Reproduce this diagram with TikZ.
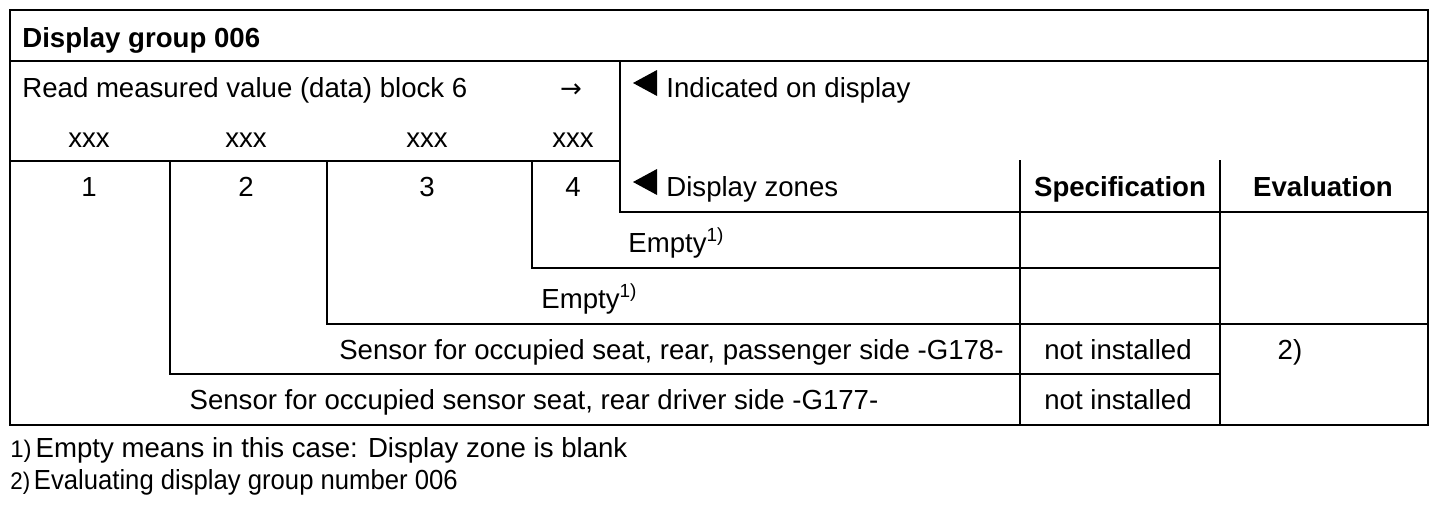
\documentclass[tikz,border=0pt]{standalone}
\usepackage{fontspec}
\setmainfont{Liberation Sans}
\newfontfamily\symfont{DejaVu Sans}
\newcommand{\fnmark}[1]{\raisebox{0.75ex}{\fontsize{9.5}{10}\selectfont #1}}
\begin{document}
\begin{tikzpicture}[x=0.5pt,y=-0.5pt,
  rule/.style={line width=1.3pt, line cap=rect},
  txt/.style={inner sep=0pt, font=\fontsize{13.8}{16}\selectfont},
  bold/.style={txt, font=\fontsize{13.8}{16}\selectfont\bfseries},
  pointer/.style={fill=black}]
\useasboundingbox (0,0) rectangle (1456,514);
% frame and rules
\draw[rule] (10,10) rectangle (1428,425);
\draw[rule] (10,61) -- (1428,61);
\draw[rule] (10,161) -- (620,161);
\draw[rule] (620,61) -- (620,212) -- (1428,212);
\draw[rule] (170,161) -- (170,374);
\draw[rule] (327,161) -- (327,324);
\draw[rule] (532,161) -- (532,268) -- (1220,268);
\draw[rule] (327,324) -- (1428,324);
\draw[rule] (170,374) -- (1220,374);
\draw[rule] (1020,161) -- (1020,425);
\draw[rule] (1220,161) -- (1220,425);
% pointers
\fill[pointer] (633,83) -- (657,70) -- (657,96) -- cycle;
\fill[pointer] (633,182) -- (657,169) -- (657,195) -- cycle;
% texts
\node[bold, anchor=base west] (title) at (22,47) {Display group 006};
\node[txt, anchor=base west] (read) at (22,97) {Read measured value (data) block 6};
\node[txt, anchor=base] (arr) at (571,97) {{\symfont\fontsize{13}{14}\selectfont →}};
\node[txt, anchor=base] (x1) at (89,147) {xxx};
\node[txt, anchor=base] (x2) at (246,147) {xxx};
\node[txt, anchor=base] (x3) at (427,147) {xxx};
\node[txt, anchor=base] (x4) at (573,147) {xxx};
\node[txt, anchor=base] (n1) at (89,196) {1};
\node[txt, anchor=base] (n2) at (246,196) {2};
\node[txt, anchor=base] (n3) at (427,196) {3};
\node[txt, anchor=base] (n4) at (573,196) {4};
\node[txt, anchor=base west] (ind) at (666,97) {Indicated on display};
\node[txt, anchor=base west] (zones) at (666,196) {Display zones};
\node[bold, anchor=base] (spec) at (1120,196) {Specification};
\node[bold, anchor=base] (eval) at (1323,196) {Evaluation};
\node[txt, anchor=base west] (e1) at (628,252) {Empty\fnmark{1)}};
\node[txt, anchor=base west] (e2) at (541,308) {Empty\fnmark{1)}};
\node[txt, anchor=base east] (g178) at (1004,359) {Sensor for occupied seat, rear, passenger side -G178-};
\node[txt, anchor=base] (ni1) at (1118,359) {not installed};
\node[txt, anchor=base] (ev2) at (1290,359) {2)};
\node[txt, anchor=base] (g177) at (534,409) {Sensor for occupied sensor seat, rear driver side -G177-};
\node[txt, anchor=base] (ni2) at (1118,409) {not installed};
\node[txt, anchor=base west] (f1) at (10,457) {{\fontsize{12}{14}\selectfont 1)}\hspace{2pt}Empty means in this case: Display zone is blank};
\node[txt, anchor=base west, xscale=0.93] (f2) at (10,489) {{\fontsize{12}{14}\selectfont 2)}\hspace{2pt}Evaluating display group number 006};
\end{tikzpicture}
\end{document}
